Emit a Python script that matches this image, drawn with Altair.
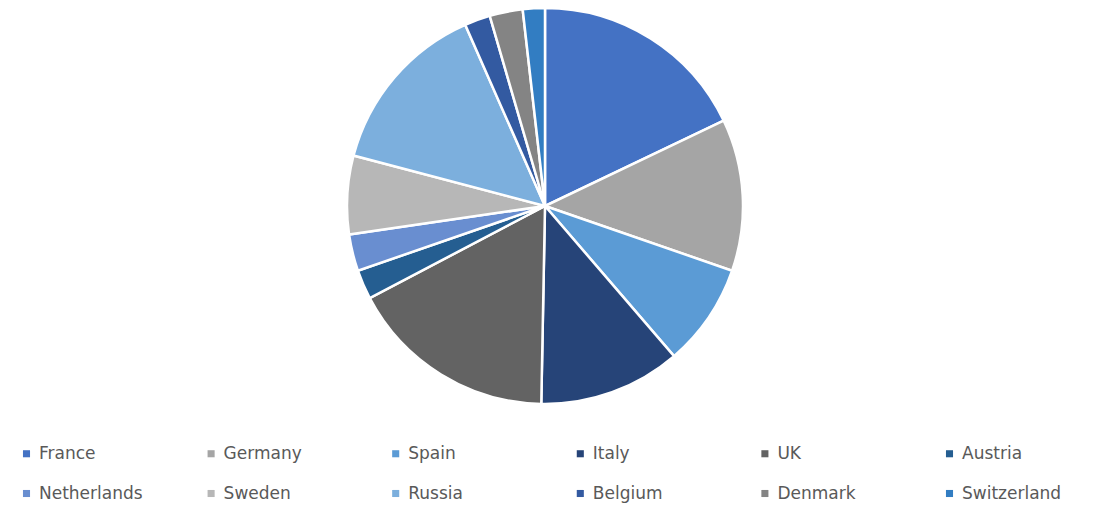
import altair as alt
import pandas as pd

countries = ["France", "Germany", "Spain", "Italy", "UK", "Austria",
             "Netherlands", "Sweden", "Russia", "Belgium", "Denmark", "Switzerland"]
shares = [17.9, 12.4, 8.4, 11.6, 17.0, 2.4, 3.0, 6.4, 14.3, 2.1, 2.7, 1.8]
colors = ["#4472C4", "#A5A5A5", "#5B9BD5", "#264478", "#636363", "#255E91",
          "#698ED0", "#B7B7B7", "#7CAFDD", "#335AA1", "#848484", "#327DC2"]

df = pd.DataFrame({"country": countries, "share": shares, "idx": list(range(len(countries)))})

chart = alt.Chart(df).mark_arc(
    outerRadius=198, stroke="white", strokeWidth=2.5
).encode(
    theta=alt.Theta("share:Q", stack=True),
    order=alt.Order("idx:Q", sort="ascending"),
    x=alt.value(545),
    y=alt.value(206),
    color=alt.Color(
        "country:N",
        sort=countries,
        scale=alt.Scale(domain=countries, range=colors),
        legend=alt.Legend(
            title=None,
            orient="none",
            legendX=18,
            legendY=445,
            direction="horizontal",
            columns=6,
            gridAlign="all",
            symbolType="square",
            symbolSize=50,
            symbolStrokeWidth=0,
            labelFont="DejaVu Sans",
            labelFontSize=17,
            labelColor="#595959",
            labelOffset=4,
            columnPadding=59.6,
            rowPadding=22,
            labelLimit=200,
        ),
    ),
).properties(
    width=1114,
    height=506,
    padding=0,
    autosize=alt.AutoSizeParams(type="none"),
).configure_view(stroke=None)

chart.save("out.html", embed_options={"renderer": "svg", "actions": False})
